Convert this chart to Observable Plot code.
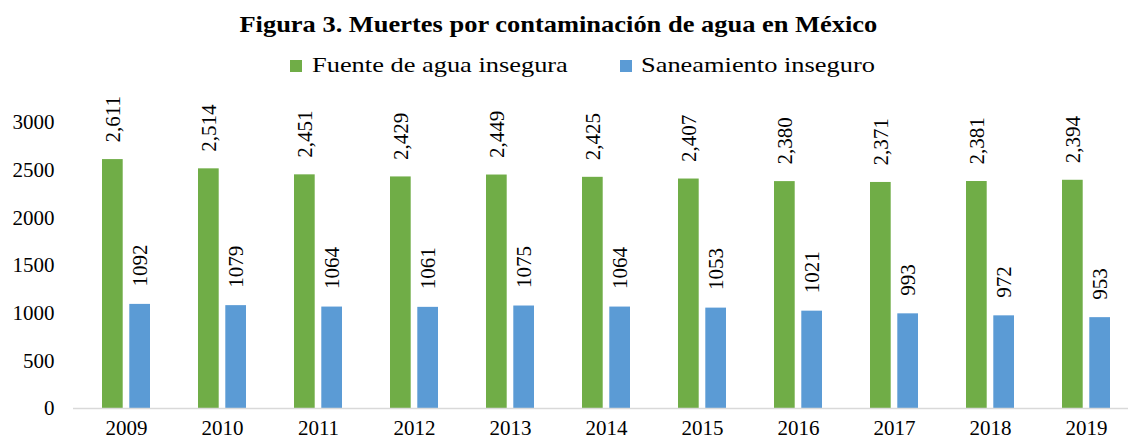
<!DOCTYPE html>
<html>
<head>
<meta charset="utf-8">
<script src="https://cdn.jsdelivr.net/npm/d3@7"></script>
<script src="https://cdn.jsdelivr.net/npm/@observablehq/plot@0.6"></script>
<style>
  body { margin: 0; background: #fff; width: 1128px; height: 442px; overflow: hidden; font-family: "Liberation Serif", "Times New Roman", serif; position: relative; }
  #title { position: absolute; left: 0; width: 1116px; top: 12px; text-align: center; font-weight: bold; font-size: 23px; line-height: 26px; color: #000; font-family: "Liberation Serif", serif; }
  #title span { display: inline-block; transform: scaleX(1.15); transform-origin: center; }
  .sw { position: absolute; width: 12px; height: 12px; top: 60px; }
  .lt { position: absolute; top: 52px; font-size: 22px; line-height: 26px; color: #000; white-space: nowrap; transform-origin: left center; transform: scaleX(1.2); font-family: "Liberation Serif", serif; }
  #chart { position: absolute; left: 0; top: 86px; }
  #chart svg text { font-family: "Liberation Serif", serif !important; }
</style>
</head>
<body>
<div id="title"><span></span></div>
<div id="legend"></div>
<div id="chart"></div>
<script>
const titleText = "Figura 3. Muertes por contaminación de agua en México";
const years = ["2009","2010","2011","2012","2013","2014","2015","2016","2017","2018","2019"];
const seriesNames = ["Fuente de agua insegura", "Saneamiento inseguro"];
const seriesColors = ["#70AD47", "#5B9BD5"];
const aguaInsegura = [2611, 2514, 2451, 2429, 2449, 2425, 2407, 2380, 2371, 2381, 2394];
const saneamientoInseguro = [1092, 1079, 1064, 1061, 1075, 1064, 1053, 1021, 993, 972, 953];
const yTicks = [0, 500, 1000, 1500, 2000, 2500, 3000];

document.querySelector("#title span").textContent = titleText;
const legend = document.getElementById("legend");
const swatchLeft = [290, 620];
const textLeft = [312, 641];
seriesNames.forEach((name, i) => {
  const sw = document.createElement("div");
  sw.className = "sw";
  sw.style.left = swatchLeft[i] + "px";
  sw.style.background = seriesColors[i];
  legend.appendChild(sw);
  const t = document.createElement("div");
  t.className = "lt";
  t.style.left = textLeft[i] + "px";
  t.textContent = name;
  legend.appendChild(t);
});

const dataA = years.map((y, i) => ({year: y, value: aguaInsegura[i]}));
const dataB = years.map((y, i) => ({year: y, value: saneamientoInseguro[i]}));

const font = "Liberation Serif";
const fs = 21;
const chart = Plot.plot({
  width: 1128,
  height: 356,
  marginLeft: 73,
  marginRight: 0,
  marginTop: 36,
  marginBottom: 34,
  style: {fontFamily: font, fontSize: fs + "px", color: "#000", background: "#fff"},
  x: {domain: years, range: [74, 1137], padding: 0},
  y: {domain: [0, 3000]},
  marks: [
    Plot.barY(dataA, {x: "year", y: "value", fill: seriesColors[0], insetLeft: 24, insetRight: 51.3}),
    Plot.barY(dataB, {x: "year", y: "value", fill: seriesColors[1], insetLeft: 51.3, insetRight: 24}),
    Plot.ruleY([0], {stroke: "#d9d9d9", strokeWidth: 1.5}),
    Plot.text(dataA, {x: "year", y: "value", text: d => d3.format(",")(d.value), rotate: -90, textAnchor: "start", dx: -13, dy: -17, fontSize: fs, fontFamily: font, fill: "#000"}),
    Plot.text(dataB, {x: "year", y: "value", text: d => String(d.value), rotate: -90, textAnchor: "start", dx: 14, dy: -18, fontSize: fs, fontFamily: font, fill: "#000"}),
    Plot.axisY({ticks: yTicks, tickSize: 0, tickPadding: 19, fontSize: fs, fontFamily: font, label: null, tickFormat: d => String(d)}),
    Plot.axisX({tickSize: 0, tickPadding: 12, fontSize: fs, fontFamily: font, label: null})
  ]
});
document.getElementById("chart").appendChild(chart);
</script>
</body>
</html>
